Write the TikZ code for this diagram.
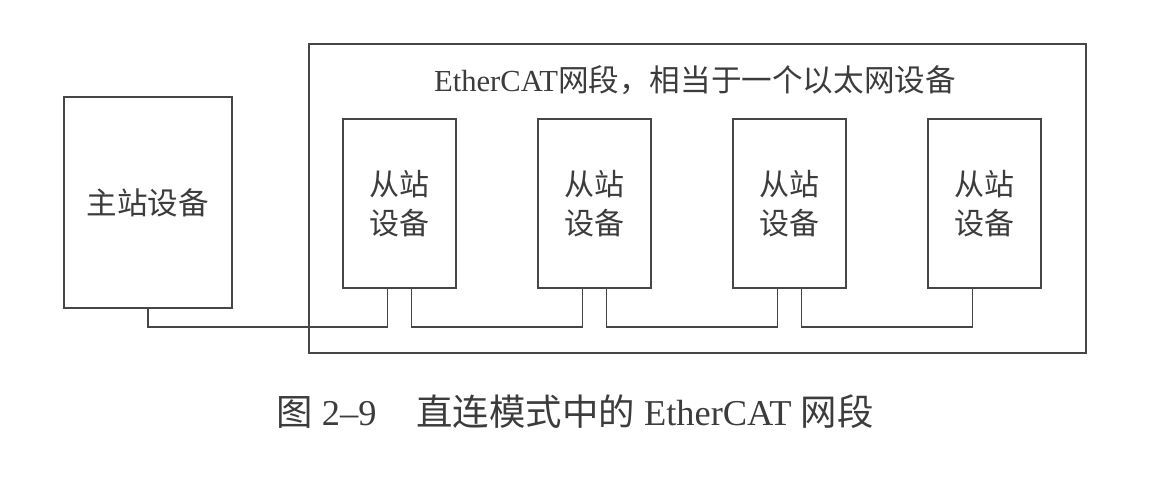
\documentclass[tikz,border=0pt]{standalone}
\usepackage{fontspec}
\setmainfont{Liberation Serif}
\newfontfamily\cjk{Noto Sans CJK SC}
\usetikzlibrary{positioning}
\definecolor{lineg}{RGB}{70,70,70}
\definecolor{textg}{RGB}{60,60,60}

\begin{document}
\begin{tikzpicture}[x=0.5pt, y=-0.5pt, font=\fontsize{15}{19.5}\selectfont,
  box/.style={draw=lineg, line width=1pt, text=textg, align=center},
  slavebox/.style={box, minimum width=56.5pt, minimum height=84.5pt, font=\cjk\fontsize{15}{19.5}\selectfont},
  wire/.style={draw=lineg, line width=0.9pt}]
\useasboundingbox (0,0) rectangle (1162,493);
% EtherCAT segment
\node[box, minimum width=388.5pt, minimum height=154.5pt] (segment) at (697.5,198.5) {};
\node[text=textg, font=\fontsize{15.3}{18}\selectfont] (segtitle) at (695,80) {EtherCAT{\cjk 网段，相当于一个以太网设备}};
% master and slaves
\node[box, minimum width=84pt, minimum height=105.5pt, font=\cjk\fontsize{15.3}{19.5}\selectfont] (master) at (148,202.5) {主站设备};
\foreach \i/\x in {1/399.5, 2/594.5, 3/789.5, 4/984.5}
  \node[slavebox] (s\i) at (\x,203.5) {从站\\设备};
% cabling
\draw[wire] (master.south) -- ++(0,18) -| ([xshift=-6pt]s1.south);
\foreach \i/\j in {1/2, 2/3, 3/4}
  \draw[wire] ([xshift=6pt]s\i.south) -- ++(0,38) -| ([xshift=-6pt]s\j.south);
% caption
\node[text=textg, font=\fontsize{18.2}{20}\selectfont] (caption) at (575,412) {{\cjk 图}\ 2–9\hspace{1.1em}{\cjk 直连模式中的} EtherCAT {\cjk 网段}};
\end{tikzpicture}
\end{document}
